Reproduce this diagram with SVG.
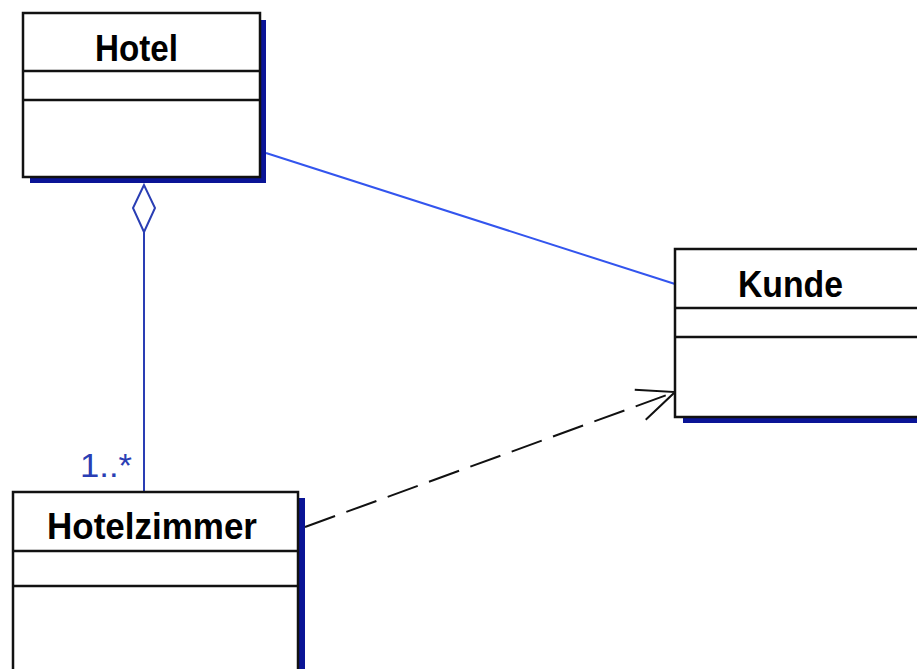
<svg xmlns="http://www.w3.org/2000/svg" width="917" height="669" viewBox="0 0 917 669">
<style>
.box{fill:#fff;stroke:#111;stroke-width:2.5}
.div{stroke:#111;stroke-width:2.5}
.shadow{fill:#0a1496}
.name{font-family:"Liberation Sans",Arial,sans-serif;font-weight:bold;font-size:36px;fill:#000;text-anchor:middle}
.mult{font-family:"Liberation Sans",Arial,sans-serif;font-size:34px;fill:#2a3eb4}
.assoc{stroke:#3355ee;stroke-width:2;fill:none}
.agg{stroke:#2a3eb4;stroke-width:2;fill:none}
.dep{stroke:#111;stroke-width:2;fill:none;stroke-dasharray:32 12}
</style>
<defs>
<marker id="open" markerUnits="userSpaceOnUse" markerWidth="50" markerHeight="50" viewBox="-45 -25 50 50" refX="0" refY="0" orient="auto">
<path d="M -37 -16 L 0 0 L -37 16" fill="none" stroke="#111" stroke-width="2"/>
</marker>
</defs>
<g id="connectors">
<line class="assoc" x1="266" y1="153" x2="675" y2="284"/>
<line class="agg" x1="144" y1="232" x2="144" y2="492"/>
<path class="agg" d="M144 185 L133 208 L144 232 L155 208 Z" fill="#fff"/>
<text class="mult" x="80" y="477" textLength="52" lengthAdjust="spacingAndGlyphs">1..*</text>
<line class="dep" x1="305" y1="527" x2="675" y2="392" marker-end="url(#open)"/>
</g>
<g id="hotel">
<rect class="shadow" x="30" y="20" width="236" height="163"/>
<rect class="box" x="23" y="13" width="237" height="164"/>
<line class="div" x1="23" y1="71" x2="260" y2="71"/>
<line class="div" x1="23" y1="100" x2="260" y2="100"/>
<text class="name" x="136.5" y="61" textLength="83" lengthAdjust="spacingAndGlyphs">Hotel</text>
</g>
<g id="kunde">
<rect class="shadow" x="683" y="256" width="260" height="167"/>
<rect class="box" x="675" y="249" width="260" height="168"/>
<line class="div" x1="675" y1="308" x2="935" y2="308"/>
<line class="div" x1="675" y1="337" x2="935" y2="337"/>
<text class="name" x="790.5" y="297" textLength="105" lengthAdjust="spacingAndGlyphs">Kunde</text>
</g>
<g id="hotelzimmer">
<rect class="shadow" x="20" y="498" width="285" height="190"/>
<rect class="box" x="13" y="492" width="285" height="190"/>
<line class="div" x1="13" y1="551" x2="298" y2="551"/>
<line class="div" x1="13" y1="586" x2="298" y2="586"/>
<text class="name" x="152" y="539" textLength="210" lengthAdjust="spacingAndGlyphs">Hotelzimmer</text>
</g>
</svg>
